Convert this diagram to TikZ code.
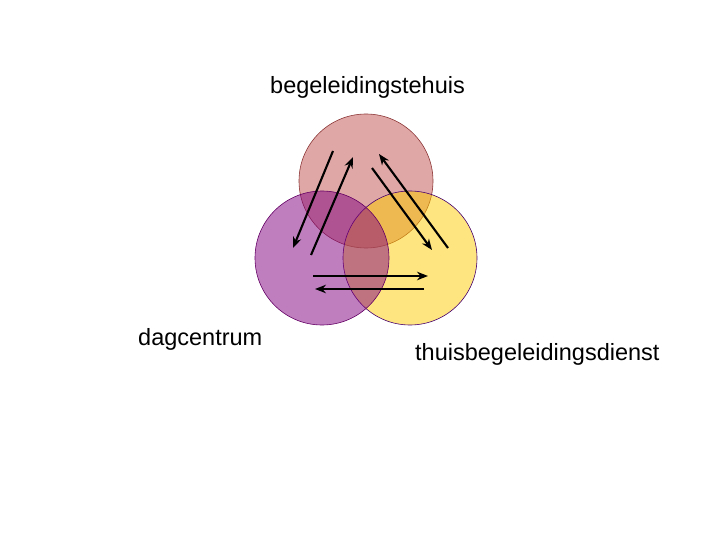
\documentclass[tikz,border=0pt]{standalone}
\usepackage{fontspec}
\setmainfont{Liberation Sans}
\usetikzlibrary{arrows.meta}
\definecolor{homefill}{RGB}{192,80,77}
\definecolor{homeline}{RGB}{140,55,55}
\definecolor{dayfill}{RGB}{128,0,128}
\definecolor{dayline}{RGB}{100,0,100}
\definecolor{servfill}{RGB}{255,204,0}
\definecolor{servline}{RGB}{70,0,110}
\tikzset{
  zone/.style={circle,minimum size=134pt,fill opacity=0.5,line width=0.6pt},
  flow/.style={->,line width=2.1pt},
  lbl/.style={anchor=base west}
}

\begin{document}
\begin{tikzpicture}[x=1pt, y=-1pt, >={Stealth[length=11pt,width=8.5pt]}, font=\fontsize{23.5}{28}\selectfont, every node/.style={inner sep=0pt}]
    \useasboundingbox (0,0) rectangle (720,540);
    \node[zone,draw=homeline,fill=homefill] (home) at (366,181) {};
    \node[zone,draw=servline,fill=servfill] (serv) at (410,258) {};
    \node[zone,draw=dayline,fill=dayfill] (day) at (322,258) {};
    \node[lbl] (lhome) at (270,94) {begeleidingstehuis};
    \node[lbl] (lday) at (138,345) {dagcentrum};
    \node[lbl] (lserv) at (415,360) {thuisbegeleidingsdienst};
    % arrows between the three services
    \coordinate (hd1) at (333,151); \coordinate (hd2) at (293,248);
    \coordinate (dh1) at (311,255); \coordinate (dh2) at (353,157);
    \coordinate (hs1) at (372,168); \coordinate (hs2) at (432,250);
    \coordinate (sh1) at (448,248); \coordinate (sh2) at (379,154);
    \coordinate (ds1) at (313,276); \coordinate (ds2) at (428,276);
    \coordinate (sd1) at (424,289); \coordinate (sd2) at (315,289);
    \foreach \a in {hd,dh,hs,sh,ds,sd} \draw[flow] (\a1) -- (\a2);
  \end{tikzpicture}
\end{document}
